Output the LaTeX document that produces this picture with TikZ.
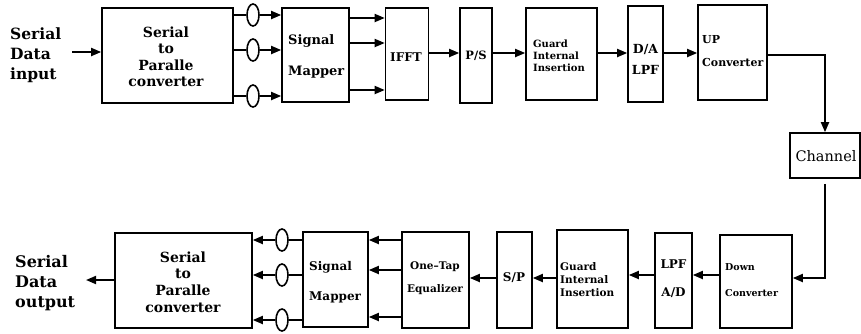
\documentclass[tikz,border=0pt]{standalone}
\usepackage{fontspec}
\setmainfont{DejaVu Serif}
\usetikzlibrary{arrows.meta,shapes.geometric}
\newcommand{\fsz}[2]{\fontsize{#1}{#2}\selectfont}
\begin{document}
\begin{tikzpicture}[x=1pt,y=-1pt,
  blk/.style={draw,line width=1.6pt,inner sep=0pt},
  arr/.style={line width=1.8pt,-{Triangle[length=10pt,width=8pt]}},
  ln/.style={line width=1.8pt},
  ov/.style={draw,ellipse,line width=1.6pt,minimum width=12pt,minimum height=22pt,inner sep=0pt},
  lbl/.style={inner sep=0pt}]
\useasboundingbox (0,0) rectangle (861,333);
% helper levels
\coordinate (y18) at (0,18);
\coordinate (y43) at (0,43);
\coordinate (y90) at (0,90);
\coordinate (y53) at (0,53);
\coordinate (y55) at (0,55);
\coordinate (y240) at (0,240);
\coordinate (y270) at (0,270);
\coordinate (y317) at (0,317);
\coordinate (y275) at (0,275);
\coordinate (y278) at (0,278);
\coordinate (cin) at (72,52);
\coordinate (cout) at (86,280);

% top row boxes
\node[blk,minimum width=131pt,minimum height=95pt] (sp1) at (167.5,55.5) {};
\node[blk,minimum width=67pt,minimum height=94pt] (sm1) at (315.5,55) {};
\node[blk,minimum width=43pt,minimum height=92pt] (ifft) at (407,54) {};
\node[blk,minimum width=32pt,minimum height=95pt] (ps) at (476,55.5) {};
\node[blk,minimum width=71pt,minimum height=92pt] (gi1) at (561.5,54) {};
\node[blk,minimum width=35pt,minimum height=96pt] (da) at (645.5,54) {};
\node[blk,minimum width=69pt,minimum height=95pt] (up) at (732.5,52.5) {};
\node[blk,minimum width=70pt,minimum height=45pt] (ch) at (825,155.5) {};
% bottom row boxes
\node[blk,minimum width=72pt,minimum height=93pt] (dn) at (756,281.5) {};
\node[blk,minimum width=37pt,minimum height=95pt] (lpf) at (673.5,280.5) {};
\node[blk,minimum width=71pt,minimum height=98pt] (gi2) at (592.5,279) {};
\node[blk,minimum width=35pt,minimum height=96pt] (sp) at (514.5,280) {};
\node[blk,minimum width=67pt,minimum height=96pt] (eq) at (435.5,280) {};
\node[blk,minimum width=65pt,minimum height=95pt] (sm2) at (335.5,279.5) {};
\node[blk,minimum width=137pt,minimum height=95pt] (sp2) at (183.5,280.5) {};

% ovals
\node[ov] (o1) at (253,15) {};
\node[ov] (o2) at (253,50) {};
\node[ov] (o3) at (253,96) {};
\node[ov] (o4) at (282,240) {};
\node[ov] (o5) at (282,275) {};
\node[ov] (o6) at (282,320) {};

% labels
\node[lbl,align=left,anchor=west,font=\bfseries\fsz{15.5}{20}] (tin) at (10,55) {Serial\\Data\\input};
\node[lbl,align=center,font=\bfseries\fsz{14}{16.5}] (tsp1) at (166,57) {Serial\\to\\Paralle\\converter};
\node[lbl,align=left,anchor=west,font=\bfseries\fsz{13}{31}] (tsm1) at (288,56) {Signal\\Mapper};
\node[lbl,font=\bfseries\fsz{12}{13}] (tifft) at (406,57) {IFFT};
\node[lbl,font=\bfseries\fsz{11.5}{12}] (tps) at (476,56) {P/S};
\node[lbl,align=left,anchor=west,font=\bfseries\fsz{10}{12}] (tgi1) at (533,56) {Guard\\Internal\\Insertion};
\node[lbl,align=center,font=\bfseries\fsz{12.5}{21}] (tda) at (645.5,59) {D/A\\LPF};
\node[lbl,align=left,anchor=west,font=\bfseries\fsz{11}{23}] (tup) at (702,51) {UP\\Converter};
\node[lbl,font=\fsz{14.5}{16}] (tch) at (826,156) {Channel};
\node[lbl,align=left,anchor=west,font=\bfseries\fsz{9.5}{26}] (tdn) at (725,280) {Down\\Converter};
\node[lbl,align=center,font=\bfseries\fsz{12}{28}] (tlpf) at (673.5,279) {LPF\\A/D};
\node[lbl,align=left,anchor=west,font=\bfseries\fsz{10.5}{13}] (tgi2) at (560,280) {Guard\\Internal\\Insertion};
\node[lbl,font=\bfseries\fsz{12}{14}] (tsp) at (514,278) {S/P};
\node[lbl,align=center,font=\bfseries\fsz{10.5}{23}] (teq) at (435,278.5) {One\textendash Tap\\Equalizer};
\node[lbl,align=left,anchor=west,font=\bfseries\fsz{12}{30}] (tsm2) at (309,282) {Signal\\Mapper};
\node[lbl,align=center,font=\bfseries\fsz{14}{16.7}] (tsp2) at (183,282) {Serial\\to\\Paralle\\converter};
\node[lbl,align=left,anchor=west,font=\bfseries\fsz{16}{20}] (tout) at (15,283) {Serial\\Data\\output};

% top connectors
\draw[arr] (cin) -- (sp1.west |- cin);
\foreach \o in {o1,o2,o3}{
  \draw[ln] (sp1.east |- \o) -- (\o.west);
  \draw[arr] (\o.east) -- (sm1.west |- \o);
}
\foreach \y in {y18,y43,y90}{
  \draw[arr] (sm1.east |- \y) -- (ifft.west |- \y);
}
\draw[arr] (ifft.east |- y53) -- (ps.west |- y53);
\draw[arr] (ps.east |- y53) -- (gi1.west |- y53);
\draw[arr] (gi1.east |- y53) -- (da.west |- y53);
\draw[arr] (da.east |- y53) -- (up.west |- y53);
\draw[arr] (up.east |- y55) -| (ch.north);
% channel to receiver
\draw[arr] ([yshift=-5pt]ch.south) |- (dn.east |- y278);
\draw[arr] (dn.west |- y275) -- (lpf.east |- y275);
\draw[arr] (lpf.west |- y275) -- (gi2.east |- y275);
\draw[arr] (gi2.west |- y278) -- (sp.east |- y278);
\draw[arr] (sp.west |- y278) -- (eq.east |- y278);
\foreach \y in {y240,y270,y317}{
  \draw[arr] (eq.west |- \y) -- (sm2.east |- \y);
}
\foreach \o in {o4,o5,o6}{
  \draw[ln] (sm2.west |- \o) -- (\o.east);
  \draw[arr] (\o.west) -- (sp2.east |- \o);
}
\draw[arr] (sp2.west |- cout) -- (cout);
\end{tikzpicture}
\end{document}
